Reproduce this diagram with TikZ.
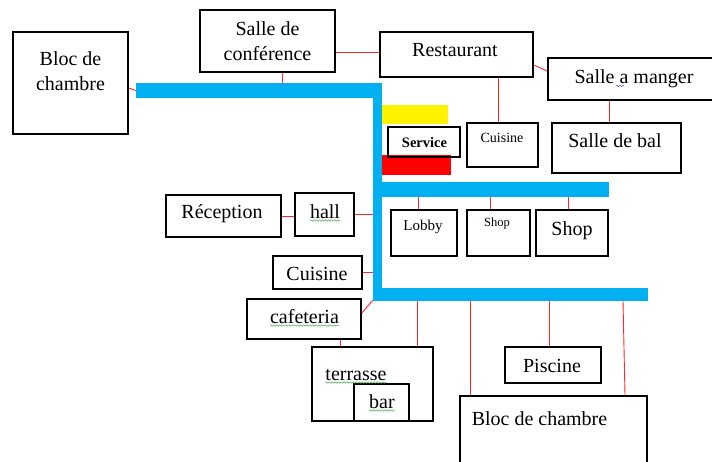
\documentclass[tikz,border=0pt]{standalone}
\usepackage{fontspec}
\setmainfont{Liberation Serif}
\usetikzlibrary{fit,decorations.pathmorphing}
\definecolor{barblue}{RGB}{0,176,240}
\definecolor{connred}{RGB}{255,40,40}
\definecolor{spellgreen}{RGB}{90,170,90}
\definecolor{spellblue}{RGB}{70,90,220}
\begin{document}
\begin{tikzpicture}[x=1pt,y=-1pt,
  box/.style={draw=black,line width=1.7pt,inner sep=0pt},
  barrect/.style={fill=barblue,draw=none,inner sep=0pt},
  conn/.style={draw=connred,line width=0.9pt},
  lbl/.style={inner sep=0pt,anchor=base,font=\fontsize{20}{25.5}\selectfont},
  twolines/.style={inner sep=0pt,anchor=center,align=center,font=\fontsize{20}{25.5}\selectfont},
  wavy/.style={draw=spellgreen,line width=0.5pt,decorate,decoration={snake,amplitude=0.7pt,segment length=3pt}}]
\useasboundingbox (0,0) rectangle (712,461);
\fill[white] (0,0) rectangle (712,461);
% bars
\node[barrect,fit={(136,83) (382,98)}] (topbar) {};
\node[barrect,fit={(373,83) (382,300)}] (vbar) {};
\node[barrect,fit={(382,182) (609,197)}] (midbar) {};
\node[barrect,fit={(373,288) (648,301)}] (botbar) {};
\node[fill=yellow,inner sep=0pt,fit={(382,105) (448,124)}] (yel) {};
\node[fill=red,inner sep=0pt,fit={(382,155) (451,175)}] (redr) {};
% boxes
\node[box,fit={(13,32) (128,134)}] (blocL) {};
\node[box,fit={(200,10) (335,72)}] (conf) {};
\node[box,fit={(380,32) (533,77)}] (rest) {};
\node[box,fit={(548,58) (720,100)}] (sam) {};
\node[box,fit={(467,123) (538,167)}] (cuisT) {};
\node[box,fit={(552,123) (681,173)}] (bal) {};
\node[box,fit={(388,127) (460,157)}] (serv) {};
\node[box,fit={(391,210) (457,256)}] (lobby) {};
\node[box,fit={(467,210) (530,256)}] (shopS) {};
\node[box,fit={(536,210) (608,256)}] (shopB) {};
\node[box,fit={(166,195) (281,237)}] (recep) {};
\node[box,fit={(295,193) (354,236)}] (hall) {};
\node[box,fit={(273,256) (362,289)}] (cuisL) {};
\node[box,fit={(247,299) (361,339)}] (cafe) {};
\node[box,fit={(312,347) (433,421)}] (terr) {};
\node[box,fit={(354,384) (409,421)}] (barb) {};
\node[box,fit={(505,347) (601,383)}] (pisc) {};
\node[box,fit={(460,396) (647,475)}] (blocB) {};
% texts
\node[twolines] (tblocL) at (70.5,71) {Bloc de\\chambre};
\node[twolines] (tconf) at (267.5,41) {Salle de\\conférence};
\node[lbl] (trest) at (455,56) {Restaurant};
\node[lbl] (tsam) at (634,83) {Salle a manger};
\node[lbl,font=\fontsize{14}{16}\selectfont] (tcuisT) at (502,142) {Cuisine};
\node[lbl] (tbal) at (615,147) {Salle de bal};
\node[lbl,font=\fontsize{14.5}{16}\selectfont\bfseries] (tserv) at (424.5,147) {Service};
\node[lbl,font=\fontsize{15}{16}\selectfont] (tlobby) at (423,230) {Lobby};
\node[lbl,font=\fontsize{12.5}{14}\selectfont] (tshopS) at (497,226) {Shop};
\node[lbl] (tshopB) at (572,235) {Shop};
\node[lbl] (trecep) at (222,218) {Réception};
\node[lbl] (thall) at (325,218) {hall};
\node[lbl] (tcuisL) at (317,280) {Cuisine};
\node[lbl] (tcafe) at (304.5,323) {cafeteria};
\node[lbl] (tterr) at (356,380) {terrasse};
\node[lbl] (tbar) at (382,408) {bar};
\node[lbl] (tpisc) at (552,372) {Piscine};
\node[lbl] (tblocB) at (539.5,425) {Bloc de chambre};
% spell-check underlines
\draw[wavy] ([yshift=-2.5pt]thall.base west) -- ([yshift=-2.5pt]thall.base east);
\draw[wavy] ([yshift=-2.5pt]tcafe.base west) -- ([yshift=-2.5pt]tcafe.base east);
\draw[wavy] ([yshift=-2.5pt]tterr.base west) -- ([yshift=-2.5pt]tterr.base east);
\draw[wavy] ([yshift=-2.5pt]tbar.base west) -- ([yshift=-2.5pt]tbar.base east);
\coordinate (aw) at ([xshift=-14pt,yshift=-3pt]tsam.base);
\draw[wavy,draw=spellblue] ([xshift=-4pt]aw) -- ([xshift=4pt]aw);
% connectors
\draw[conn] ([yshift=-5pt]blocL.east) -- (topbar.west);
\path (conf.south) ++(14.5,0) coordinate (c1);
\draw[conn] (c1) -- (c1 |- topbar.north);
\draw[conn] ([yshift=2.5pt]rest.west) -- ([yshift=2.5pt]rest.west -| conf.east);
\draw[conn] ([yshift=-10.5pt]rest.east) -- ([yshift=8pt]sam.west);
\path (rest.south) ++(41.5,0) coordinate (c2);
\draw[conn] (c2) -- (c2 |- cuisT.north);
\path (sam.south) ++(-25,0) coordinate (c3);
\draw[conn] (c3) -- (c3 |- bal.north);
\draw[conn] (recep.east) -- (recep.east -| hall.west);
\draw[conn] (hall.east) -- (hall.east -| vbar.west);
\draw[conn] (cuisL.east) -- (cuisL.east -| vbar.west);
\draw[conn] ([yshift=6pt]cafe.east) -- (vbar.south west);
\path (cafe.south) ++(36,0) coordinate (c4);
\draw[conn] (c4) -- (c4 |- terr.north);
\path (lobby.north) ++(-6,0) coordinate (c5);
\draw[conn] (c5) -- (c5 |- midbar.south);
\path (shopS.north) ++(-8.5,0) coordinate (c6);
\draw[conn] (c6) -- (c6 |- midbar.south);
\path (shopB.north) ++(-4,0) coordinate (c7);
\draw[conn] (c7) -- (c7 |- midbar.south);
\path (terr.north) ++(44.5,0) coordinate (c8);
\draw[conn] (c8) -- (c8 |- botbar.south);
\path (blocB.north) ++(-83.5,0) coordinate (c9);
\draw[conn] (c9) -- (c9 |- botbar.south);
\path (pisc.north) ++(-4,0) coordinate (c10);
\draw[conn] (c10) -- (c10 |- botbar.south);
\path (blocB.north) ++(71.5,0) coordinate (c11);
\draw[conn] (c11) -- ([xshift=-2pt]c11 |- botbar.south);
\end{tikzpicture}
\end{document}
